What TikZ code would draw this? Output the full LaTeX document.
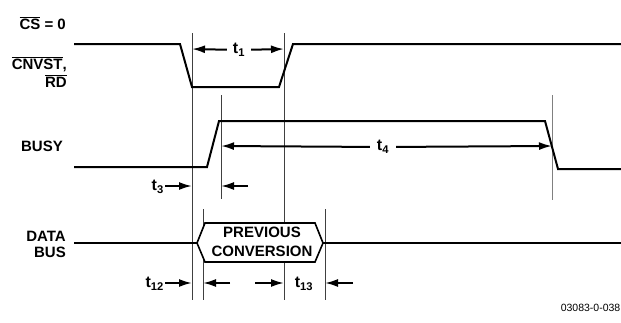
\documentclass[tikz,border=0pt]{standalone}
\usepackage{fontspec}
\setmainfont{Liberation Sans}
\usetikzlibrary{arrows.meta}
\begin{document}
\begin{tikzpicture}[x=1pt,y=-1pt,>={Latex[length=13pt,width=8pt]},
  sig/.style={line width=2pt,line join=miter},
  guide/.style={line width=1pt,black!75},
  dim/.style={->,line width=2pt},
  lbl/.style={font=\bfseries\fontsize{15}{18}\selectfont,anchor=east,align=right,inner sep=0pt},
  tlbl/.style={font=\bfseries\fontsize{16}{18}\selectfont,inner sep=1pt}]
\useasboundingbox (0,0) rectangle (621,322);

% guide lines
\draw[guide] (192,33)--(192,300);
\draw[guide] (284,33)--(284,300);
\draw[guide] (221,95)--(221,199);
\draw[guide,black!50] (552,95)--(552,200);
\draw[guide] (203,209)--(203,300);
\draw[guide] (325,209)--(325,300);

% signals
\draw[sig] (74,44)--(180,44)--(192,87)--(279,87)--(293,44)--(621,44);
\draw[sig] (74,167)--(207,167)--(219,121)--(545,121)--(558,169)--(621,169);
\draw[sig] (74,243)--(197,243);
\draw[sig] (323,243)--(621,243);
\filldraw[fill=white,line width=1.6pt] (197,243)--(205,223)--(315,223)--(323,243)--(315,262)--(205,262)--cycle;
\node[font=\bfseries\fontsize{15}{18.5}\selectfont,align=center] (prev) at (262,242) {PREVIOUS\\CONVERSION};

% signal names
\node[lbl] (cs) at (66,23) {$\overline{\mbox{CS}}$ = 0};
\node[lbl] (cnvst) at (67,72) {$\overline{\mbox{CNVST}}$,\\$\overline{\mbox{RD}}$};
\node[lbl] (busy) at (63,146) {BUSY};
\node[lbl,font=\bfseries\fontsize{15}{16}\selectfont] (data) at (66,244) {DATA\\BUS};

% timing
\node[tlbl,inner xsep=6pt] (t1) at (239,50) {t\textsubscript{1}};
\draw[dim] (t1) -- (192,49);
\draw[dim] (t1) -- (284,49);

\node[tlbl,inner xsep=7pt] (t4) at (383,147) {t\textsubscript{4}};
\draw[dim] (t4) -- (221,146);
\draw[dim] (t4) -- (552,146);

\node[tlbl,anchor=east] (t3) at (165,187) {t\textsubscript{3}};
\draw[dim] (165,186) -- (192,186);
\draw[dim] (248,186) -- (221,186);

\node[tlbl,anchor=east] (t12) at (165,284) {t\textsubscript{12}};
\draw[dim] (165,283) -- (192,283);
\draw[dim] (230,283) -- (203,283);

\node[tlbl] (t13) at (304,284) {t\textsubscript{13}};
\draw[dim] (255,283) -- (284,283);
\draw[dim] (353,283) -- (325,283);

\node[font=\fontsize{10.5}{12}\selectfont,anchor=east,inner sep=0pt] (fig) at (620.5,308) {03083-0-038};
\end{tikzpicture}
\end{document}
